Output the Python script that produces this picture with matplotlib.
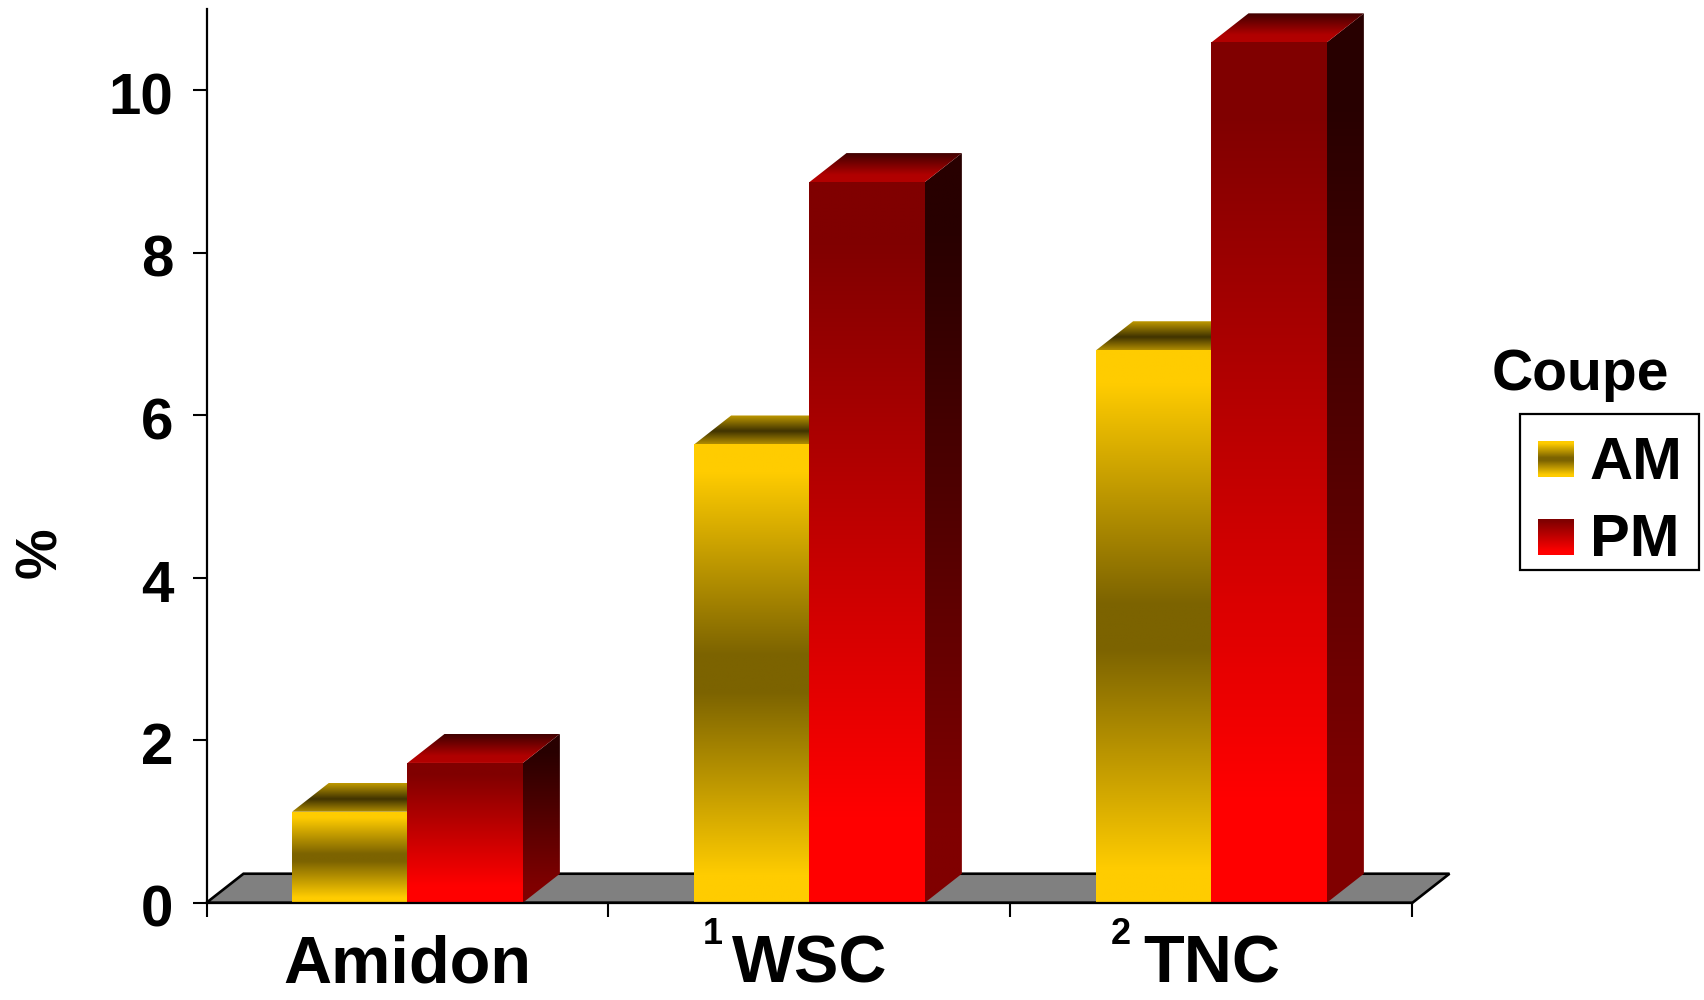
import numpy as np
import matplotlib
matplotlib.use("Agg")
import matplotlib.pyplot as plt
from matplotlib.colors import LinearSegmentedColormap as LSC
from matplotlib.patches import Polygon, Rectangle
from matplotlib.transforms import ScaledTranslation

categories = ["Amidon", "WSC", "TNC"]
superscripts = ["", "1", "2"]
am_values = [1.12, 5.64, 6.80]
pm_values = [1.72, 8.87, 10.59]
series_names = ["AM", "PM"]
yticks = [0, 2, 4, 6, 8, 10]
legend_title = "Coupe"

plt.rcParams["font.family"] = ["Liberation Sans", "DejaVu Sans"]
plt.rcParams["font.weight"] = "bold"

W, H = 1704, 1000
fig = plt.figure(figsize=(W / 100, H / 100), dpi=100, facecolor="white")
L, R, T, B = 206.5, 1412.5, 9, 902.7
ax = fig.add_axes([L / W, 1 - B / H, (R - L) / W, (B - T) / H])

def cm(stops):
    return LSC.from_list("g", stops, N=256)

AM_FRONT = cm([(0, "#FFCC00"), (0.06, "#FFCC00"), (0.46, "#7C6300"), (0.54, "#7C6300"), (0.94, "#FFCC00"), (1, "#FFCC00")])
AM_TOP = cm([(0, "#C09A00"), (0.55, "#403300"), (1, "#B08C00")])
AM_SIDE = cm([(0, "#403300"), (0.5, "#201A00"), (1, "#403300")])
PM_FRONT = cm([(0, "#800000"), (0.08, "#800000"), (0.88, "#FF0000"), (1, "#FF0000")])
PM_TOP = cm([(0, "#400000"), (0.75, "#B00000"), (1, "#B30000")])
PM_SIDE = cm([(0, "#280000"), (0.1, "#280000"), (0.9, "#800000"), (1, "#800000")])

GRAD = np.linspace(0, 1, 256)[:, None]

def face(points, cmap, z):
    xs, ys = zip(*points)
    im = ax.imshow(GRAD, cmap=cmap, vmin=0, vmax=1, aspect="auto", origin="upper",
                   extent=(min(xs), max(xs), min(ys), max(ys)), zorder=z,
                   interpolation="bilinear")
    clip = Polygon(points, closed=True, transform=ax.transData)
    im.set_clip_path(clip)
    im.set_clip_box(fig.bbox)
    return im

DX, DY = 37 / 402, 29 / 81.3
BAR_W = 0.287

def bar3d(x, v, front, top, side, z):
    x2 = x + BAR_W
    face([(x2, 0), (x2 + DX, DY), (x2 + DX, v + DY), (x2, v)], side, z)
    face([(x, v), (x2, v), (x2 + DX, v + DY), (x + DX, v + DY)], top, z)
    face([(x, 0), (x2, 0), (x2, v), (x, v)], front, z + 0.1)

ax.add_patch(Polygon([(0, 0), (3, 0), (3 + DX, DY), (DX, DY)], closed=True, facecolor="#808080",
                     edgecolor="black", linewidth=1.9, zorder=1, clip_on=False, joinstyle="miter"))

for i in range(len(categories)):
    c = i + 0.5
    bar3d(c - BAR_W, am_values[i], AM_FRONT, AM_TOP, AM_SIDE, 2 + i)
    bar3d(c, pm_values[i], PM_FRONT, PM_TOP, PM_SIDE, 2.5 + i)

ax.set_xlim(0, 3)
ax.set_ylim(0, 11)
for s in ("top", "right"):
    ax.spines[s].set_visible(False)
for s in ("left", "bottom"):
    ax.spines[s].set_linewidth(1.6)
    ax.spines[s].set_zorder(10)

ax.set_yticks(yticks)
ax.set_yticklabels([str(v) for v in yticks], fontsize=42, fontweight="bold")
ax.tick_params(axis="y", length=10, width=1.5, pad=14)
down = ScaledTranslation(0, -3 / 100, fig.dpi_scale_trans)
for lab in ax.get_yticklabels():
    lab.set_transform(lab.get_transform() + down)
ax.set_xticks([0, 1, 2, 3])
ax.set_xticklabels([])
ax.tick_params(axis="x", which="major", length=10, width=1.5)
ax.set_xticks([i + 0.5 for i in range(len(categories))], minor=True)
ax.set_xticklabels(categories, minor=True, fontsize=48, fontweight="bold")
ax.tick_params(axis="x", which="minor", length=0, pad=23)

for i, s in enumerate(superscripts):
    if s:
        ax.annotate(s, xy=(i + 0.5, 0), xycoords="data",
                    xytext=(-97 if i == 1 else -91, -32), textcoords="offset pixels",
                    fontsize=26, fontweight="bold", ha="center", va="center")

fig.text(41 / W, 1 - 553 / H, "%", fontsize=41, fontweight="bold", rotation=90,
         ha="center", va="center")

# legend
fig.text(1580 / W, 1 - 375 / H, legend_title, fontsize=41, fontweight="bold", ha="center", va="center")
fig.add_artist(Rectangle((1519.5 / W, 1 - 570 / H), 179.5 / W, 156 / H, transform=fig.transFigure,
                         facecolor="white", edgecolor="black", linewidth=1.6, zorder=-1))
swatch_maps = [AM_FRONT, cm([(0, "#800000"), (0.05, "#800000"), (0.9, "#FF0000"), (1, "#FF0000")])]
swatch_tops = [441, 519]
for name, cmap, top in zip(series_names, swatch_maps, swatch_tops):
    a = fig.add_axes([1538 / W, 1 - (top + 36) / H, 36 / W, 36 / H])
    a.imshow(GRAD, cmap=cmap, vmin=0, vmax=1, aspect="auto", interpolation="bilinear")
    a.axis("off")
    fig.text(1590 / W, 1 - (top + 16) / H, name, fontsize=43, fontweight="bold", ha="left", va="center_baseline")

fig.savefig("out.png", dpi=100, facecolor="white")
